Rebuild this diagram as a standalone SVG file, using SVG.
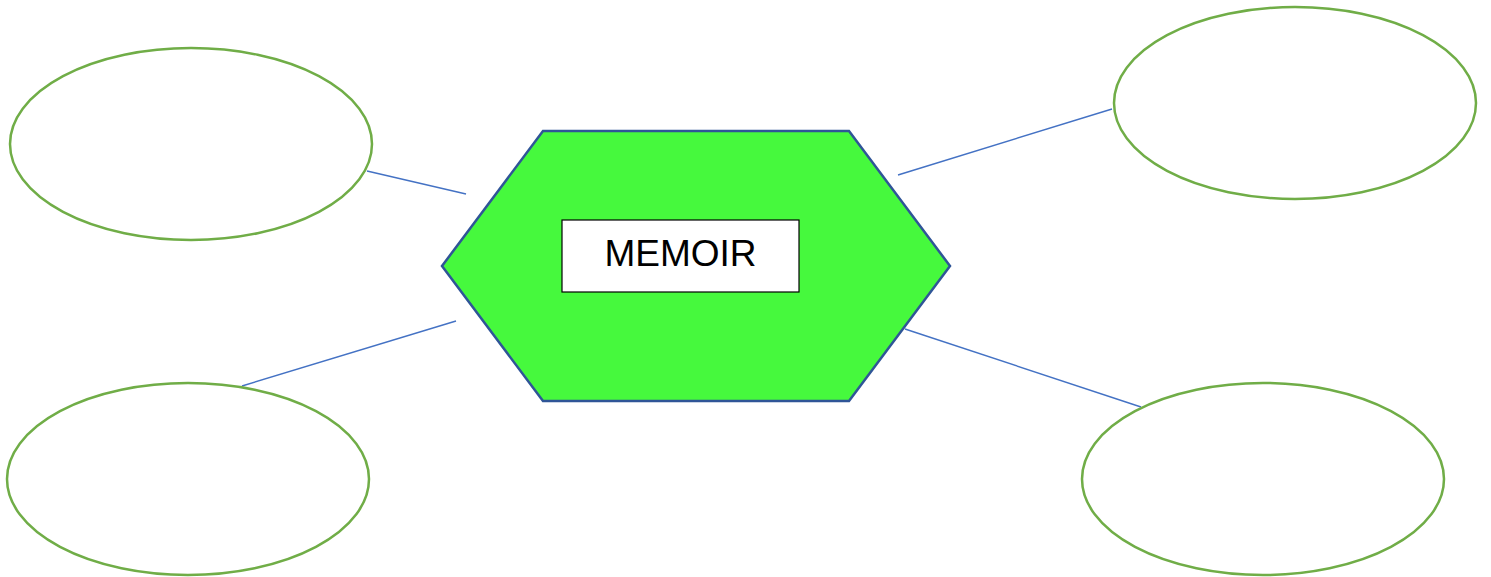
<svg xmlns="http://www.w3.org/2000/svg" width="1491" height="577" viewBox="0 0 1491 577">
<style>
.oval{fill:#FFFFFF;stroke:#70AD47;stroke-width:2.5}
.conn{stroke:#4472C4;stroke-width:1.4;fill:none}
.hex{fill:#46F93D;stroke:#2F5597;stroke-width:2.5}
.lbl{fill:#FFFFFF;stroke:#000000;stroke-width:1.2}
.txt{font-family:"Liberation Sans",Arial,sans-serif;font-size:37px;fill:#000000;text-anchor:middle}
</style>
<rect width="1491" height="577" fill="#FFFFFF"/>
<g id="connectors">
<line class="conn" x1="367" y1="171" x2="466" y2="194"/>
<line class="conn" x1="242" y1="386" x2="456" y2="321"/>
<line class="conn" x1="898" y1="175" x2="1112" y2="109"/>
<line class="conn" x1="905" y1="329" x2="1141" y2="407"/>
</g>
<g id="memoir">
<polygon class="hex" points="543,131 849,131 950,266 849,401 543,401 442,266"/>
<rect class="lbl" x="562" y="220" width="237" height="72"/>
<text class="txt" x="680.5" y="266">MEMOIR</text>
</g>
<g id="oval-top-left"><ellipse class="oval" cx="191" cy="144" rx="181" ry="96"/></g>
<g id="oval-bottom-left"><ellipse class="oval" cx="188" cy="479" rx="181" ry="96"/></g>
<g id="oval-top-right"><ellipse class="oval" cx="1295" cy="103" rx="181" ry="96"/></g>
<g id="oval-bottom-right"><ellipse class="oval" cx="1263" cy="479" rx="181" ry="96"/></g>
</svg>
